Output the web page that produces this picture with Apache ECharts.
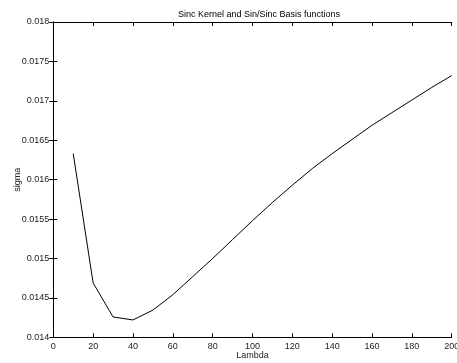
<!DOCTYPE html>
<html>
<head>
<meta charset="utf-8">
<script src="https://cdn.jsdelivr.net/npm/echarts@6/dist/echarts.min.js"></script>
<style>html,body{margin:0;padding:0;background:#fff}#c{width:457px;height:363px}</style>
</head>
<body>
<div id="c"></div>
<script>
var lambda = [10,20,30,40,50,60,70,80,90,100,110,120,130,140,150,160,170,180,190,200];
var sigma = [0.01633,0.01469,0.014258,0.01422,0.014345,0.01454,0.01477,0.01500,0.01524,0.01548,0.01571,0.01593,0.01614,0.01633,0.01651,0.01669,0.01685,0.01701,0.01717,0.01732];
var titleText = 'Sinc Kernel and Sin/Sinc Basis functions';
var xName = 'Lambda';
var yName = 'sigma';

var font = 'Liberation Sans, Arial, sans-serif';
var chart = echarts.init(document.getElementById('c'), null, {renderer:'canvas'});
var axisLine = {show:true, lineStyle:{color:'#000', width:1}};
var tick = {show:true, inside:true, length:4, lineStyle:{color:'#000'}};
chart.setOption({
  animation:false,
  backgroundColor:'#fff',
  title:{text:titleText, left:254, top:5, textAlign:'center',
    textStyle:{fontFamily:font, fontSize:9, fontWeight:'normal', color:'#000'}},
  grid:{left:53.3, right:5.3, top:22, bottom:25.7, containLabel:false, outerBoundsMode:'none'},
  xAxis:[{type:'value', min:0, max:200, interval:20, position:'bottom',
      name:xName, nameLocation:'middle', nameGap:14, nameMoveOverlap:false,
      nameTextStyle:{fontFamily:font, fontSize:9, color:'#222'},
      axisLine:axisLine, axisTick:tick, splitLine:{show:false},
      axisLabel:{fontFamily:font, fontSize:9, color:'#222', margin:5}},
    {type:'value', min:0, max:200, interval:20, position:'top',
      axisLine:axisLine, axisTick:tick, splitLine:{show:false}, axisLabel:{show:false}}],
  yAxis:[{type:'value', min:0.014, max:0.018, interval:0.0005, position:'left',
      name:yName, nameLocation:'middle', nameGap:31, nameMoveOverlap:false,
      nameTextStyle:{fontFamily:font, fontSize:9, color:'#222'},
      axisLine:axisLine, axisTick:tick, splitLine:{show:false},
      axisLabel:{fontFamily:font, fontSize:9, color:'#222', margin:4,
        formatter:function(v){return String(+v.toFixed(5));}}},
    {type:'value', min:0.014, max:0.018, interval:0.0005, position:'right',
      axisLine:axisLine, axisTick:tick, splitLine:{show:false}, axisLabel:{show:false}}],
  series:[{type:'line', xAxisIndex:0, yAxisIndex:0,
    data:lambda.map(function(x,i){return [x, sigma[i]];}),
    showSymbol:false, symbol:'none', lineStyle:{color:'#000', width:1}}]
});
</script>
</body>
</html>
